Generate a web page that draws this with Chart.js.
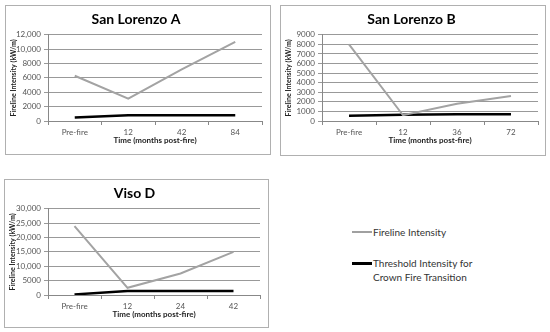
<!DOCTYPE html>
<html><head><meta charset="utf-8">
<script src="https://cdn.jsdelivr.net/npm/chart.js@4/dist/chart.umd.min.js"></script>
<style>
body{margin:0;background:#fff;width:550px;height:332px;position:relative;overflow:hidden;font-family:"Lato","Liberation Sans",sans-serif;}
.panel{position:absolute;border:1px solid #b0b0b0;box-sizing:border-box;background:#fff;}
.panel canvas{position:absolute;left:0;top:0;}
.leg{position:absolute;font-size:10px;color:#333;line-height:14px;font-family:"Lato","Liberation Sans",sans-serif;}
.sw{position:absolute;height:0;}
</style></head><body>
<div class="panel" style="left:5px;top:5px;width:266px;height:150px"><canvas id="cA" width="264" height="148"></canvas></div>
<div class="panel" style="left:280px;top:5px;width:266px;height:151px"><canvas id="cB" width="264" height="149"></canvas></div>
<div class="panel" style="left:4px;top:179px;width:265px;height:149px"><canvas id="cC" width="263" height="147"></canvas></div>
<div class="sw" style="left:352px;top:231px;width:20px;border-top:2px solid #a0a0a0"></div>
<div class="leg" style="left:373px;top:225px">Fireline Intensity</div>
<div class="sw" style="left:352px;top:262px;width:20px;border-top:3px solid #000"></div>
<div class="leg" style="left:373px;top:256px">Threshold Intensity for<br>Crown Fire Transition</div>
<script>
const titles = ["San Lorenzo A","San Lorenzo B","Viso D"];
const catsA = ["Pre-fire","12","42","84"];
const catsB = ["Pre-fire","12","36","72"];
const catsC = ["Pre-fire","12","24","42"];
const firelineA = [6300,3100,7200,11000];
const thresholdA = [500,800,800,800];
const firelineB = [8000,600,1800,2600];
const thresholdB = [550,650,700,700];
const firelineC = [24000,2500,7500,15000];
const thresholdC = [200,1400,1400,1400];
const yMax = [12000,9000,30000];
const yStep = [2000,1000,5000];
const seriesNames = ["Fireline Intensity","Threshold Intensity for Crown Fire Transition"];

function fmt(v){return v>=10000 ? v.toLocaleString('en-US') : String(v);}
const FF = 'Lato, Liberation Sans, sans-serif';

function make(id, title, cats, fire, thr, max, step, lay){
  new Chart(document.getElementById(id),{
    type:'line',
    data:{labels:cats,datasets:[
      {label:seriesNames[0],data:fire,borderColor:'#a3a3a3',borderWidth:2,pointRadius:0,tension:0},
      {label:seriesNames[1],data:thr,borderColor:'#000',borderWidth:2.5,pointRadius:0,tension:0}
    ]},
    options:{
      responsive:false,animation:false,
      layout:{padding:{left:4,right:lay.right,top:0,bottom:lay.bottom}},
      plugins:{legend:{display:false},tooltip:{enabled:false},
        title:{display:true,text:title,color:'#000',font:{family:FF,size:14,weight:'bold'},padding:{top:5,bottom:7}}},
      scales:{
        x:{offset:true,
          afterFit:s=>{s.height=lay.xh;},
          grid:{offset:true,drawOnChartArea:false,color:'#888',tickLength:4},
          border:{color:'#888'},
          ticks:{color:'#555',font:{family:FF,size:8},padding:3,maxRotation:0,autoSkip:false},
          title:{display:true,text:'Time (months post-fire)',color:'#222',font:{family:FF,size:8,weight:'bold'},padding:{top:2,bottom:0}}},
        y:{min:0,max:max,
          afterFit:s=>{s.width=lay.yw;},
          grid:{color:'#999',tickLength:4,drawTicks:true},
          border:{color:'#888'},
          ticks:{stepSize:step,autoSkip:false,color:'#555',font:{family:FF,size:8},padding:3,callback:v=>fmt(v)},
          title:{display:true,text:'Fireline Intensity (kW/m)',color:'#222',font:{family:FF,size:7,weight:'bold'},padding:{top:0,bottom:2}}}
      }
    }
  });
}
make('cA',titles[0],catsA,firelineA,thresholdA,yMax[0],yStep[0],{yw:38,right:8,xh:24,bottom:9});
make('cB',titles[1],catsB,firelineB,thresholdB,yMax[1],yStep[1],{yw:37,right:7,xh:24,bottom:10});
make('cC',titles[2],catsC,firelineC,thresholdC,yMax[2],yStep[2],{yw:39,right:8,xh:24,bottom:8});
</script>
</body></html>
